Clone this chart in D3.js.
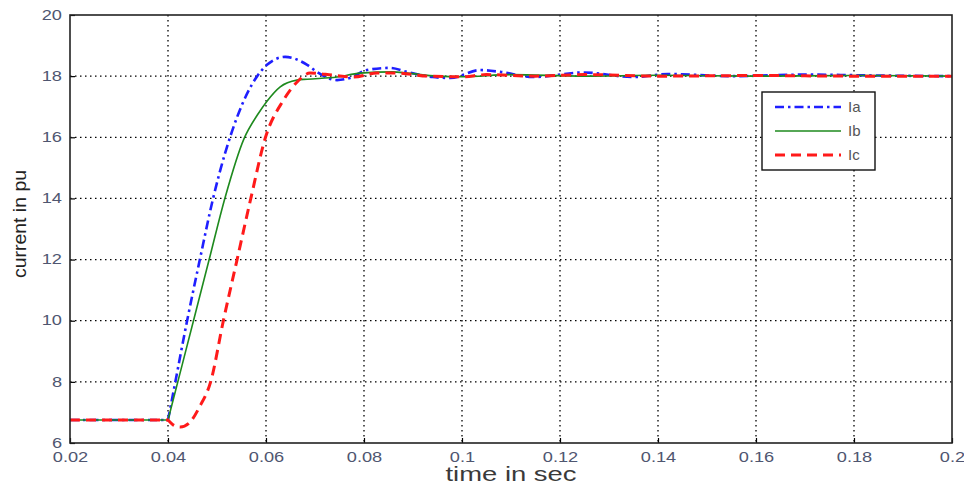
<!DOCTYPE html>
<meta charset="utf-8">
<style>
    html, body { margin: 0; padding: 0; background: #fff; }
    svg { display: block; font-family: "Liberation Sans", Arial, sans-serif; }
    .tick text { fill: #4f5670; font-size: 14px; }
</style>
<svg id="chart" width="964" height="489"></svg>
<script src="https://d3js.org/d3.v7.min.js"></script>
<script>
    // values (time in s, current in pu)
    const iaT = [0.02, 0.04, 0.0415, 0.0439, 0.0465, 0.0492, 0.0541, 0.0582, 0.0602, 0.0639, 0.0684, 0.0704, 0.0745, 0.0771, 0.0806, 0.0853, 0.0888, 0.094, 0.0976, 0.1037, 0.1078, 0.1145, 0.1247, 0.135, 0.142, 0.155, 0.170, 0.185, 0.200];
    const iaV = [6.75, 6.75, 8.0, 10.0, 12.0, 14.0, 16.66, 18.0, 18.37, 18.63, 18.37, 18.14, 17.87, 17.94, 18.2, 18.27, 18.14, 17.97, 17.94, 18.2, 18.14, 17.97, 18.12, 17.97, 18.07, 18.0, 18.05, 18.02, 18.0];

    const ibT = [0.02, 0.04, 0.042, 0.0452, 0.0484, 0.0516, 0.0555, 0.0582, 0.0602, 0.0629, 0.0663, 0.0684, 0.0745, 0.0792, 0.0859, 0.0888, 0.095, 0.100, 0.110, 0.125, 0.140, 0.160, 0.180, 0.200];
    const ibV = [6.75, 6.75, 8.0, 10.0, 12.0, 14.0, 15.95, 16.72, 17.18, 17.65, 17.87, 17.9, 17.97, 18.1, 18.14, 18.1, 18.0, 17.98, 18.05, 18.0, 18.03, 18.0, 18.02, 18.0];

    const icT = [0.02, 0.04, 0.041, 0.0425, 0.0443, 0.0465, 0.0487, 0.0513, 0.0541, 0.0569, 0.0599, 0.0635, 0.0663, 0.069, 0.0737, 0.0778, 0.0827, 0.0867, 0.093, 0.100, 0.105, 0.115, 0.125, 0.140, 0.160, 0.180, 0.200];
    const icV = [6.75, 6.75, 6.6, 6.52, 6.65, 7.2, 8.0, 10.0, 12.0, 14.0, 16.0, 17.2, 17.8, 18.1, 18.03, 17.97, 18.1, 18.1, 18.0, 17.98, 18.05, 18.0, 18.05, 18.0, 18.02, 18.0, 18.0];

    const xTicks = [0.02, 0.04, 0.06, 0.08, 0.1, 0.12, 0.14, 0.16, 0.18, 0.2];
    const yTicks = [6, 8, 10, 12, 14, 16, 18, 20];

    const series = [
        { name: "Ia", t: iaT, v: iaV, color: "#1f1fff", width: 2.6, dash: "9,4,2.5,4" },
        { name: "Ib", t: ibT, v: ibV, color: "#1e8a1e", width: 1.6, dash: null },
        { name: "Ic", t: icT, v: icV, color: "#ff1a1a", width: 3, dash: "10,6" }
    ];

    const margin = { left: 70, top: 15, right: 12, bottom: 46 };
    const svg = d3.select("#chart");
    const W = +svg.attr("width"), H = +svg.attr("height");
    const w = W - margin.left - margin.right, h = H - margin.top - margin.bottom;

    const x = d3.scaleLinear().domain([0.02, 0.2]).range([0, w]);
    const y = d3.scaleLinear().domain([6, 20]).range([h, 0]);

    const g = svg.append("g").attr("transform", `translate(${margin.left},${margin.top})`);

    // the picture's text is wide, so stretch it a bit
    function widen(sel, k) {
        sel.each(function () {
            const bw = this.getComputedTextLength();
            d3.select(this).attr("textLength", bw * k).attr("lengthAdjust", "spacingAndGlyphs");
        });
    }

    // grid
    g.append("g").selectAll("line").data(xTicks.slice(1, -1)).join("line")
        .attr("x1", d => x(d)).attr("x2", d => x(d)).attr("y1", 0).attr("y2", h)
        .attr("stroke", "#000").attr("stroke-width", 1.3).attr("stroke-dasharray", "1.5,3.5");
    g.append("g").selectAll("line").data(yTicks.slice(1, -1)).join("line")
        .attr("y1", d => y(d)).attr("y2", d => y(d)).attr("x1", 0).attr("x2", w)
        .attr("stroke", "#000").attr("stroke-width", 1.3).attr("stroke-dasharray", "1.5,3.5");

    // axes
    const xAxis = g.append("g").attr("transform", `translate(0,${h})`)
        .call(d3.axisBottom(x).tickValues(xTicks).tickSize(-5).tickPadding(9).tickFormat(d3.format("~g")));
    const yAxis = g.append("g")
        .call(d3.axisLeft(y).tickValues(yTicks).tickSize(-5).tickPadding(8));
    [xAxis, yAxis].forEach(a => {
        a.select(".domain").remove();
        a.selectAll(".tick line").attr("stroke", "#000").attr("stroke-width", 1.2);
        widen(a.selectAll(".tick text"), 1.3);
    });
    yAxis.selectAll(".tick text").attr("dy", "0.3em");

    // lines: flat start drawn straight, the rest smoothed
    const smooth = d3.line().x(d => x(d[0])).y(d => y(d[1])).curve(d3.curveMonotoneX);
    series.forEach(s => {
        const pts = s.t.map((t, i) => [t, s.v[i]]);
        const d = `M${x(pts[0][0])},${y(pts[0][1])}` + smooth(pts.slice(1)).replace(/^M/, "L");
        g.append("path")
            .attr("d", d)
            .attr("fill", "none")
            .attr("stroke", s.color)
            .attr("stroke-width", s.width)
            .attr("stroke-dasharray", s.dash);
    });

    // frame
    g.append("rect").attr("width", w).attr("height", h)
        .attr("fill", "none").attr("stroke", "#222").attr("stroke-width", 1.6);

    // legend
    const lg = g.append("g").attr("transform", `translate(${762 - margin.left},${92 - margin.top})`);
    lg.append("rect").attr("width", 113).attr("height", 78)
        .attr("fill", "#fff").attr("stroke", "#111").attr("stroke-width", 1.4);
    series.forEach((s, i) => {
        const yy = 15 + i * 24;
        lg.append("line").attr("x1", 13).attr("x2", 79).attr("y1", yy).attr("y2", yy)
            .attr("stroke", s.color).attr("stroke-width", s.width).attr("stroke-dasharray", s.dash);
        lg.append("text").attr("x", 86).attr("y", yy).attr("dy", "0.35em")
            .attr("font-size", 15).attr("fill", "#555").text(s.name);
    });

    // axis titles
    svg.append("text").attr("x", 511).attr("y", 481)
        .attr("text-anchor", "middle").attr("font-size", 20).attr("fill", "#3a3a3a")
        .attr("textLength", 131).attr("lengthAdjust", "spacingAndGlyphs").text("time in sec");
    svg.append("text").attr("transform", "translate(26,224) rotate(-90)")
        .attr("text-anchor", "middle").attr("font-size", 19).attr("fill", "#222")
        .attr("textLength", 108).attr("lengthAdjust", "spacingAndGlyphs").text("current in pu");
</script>
